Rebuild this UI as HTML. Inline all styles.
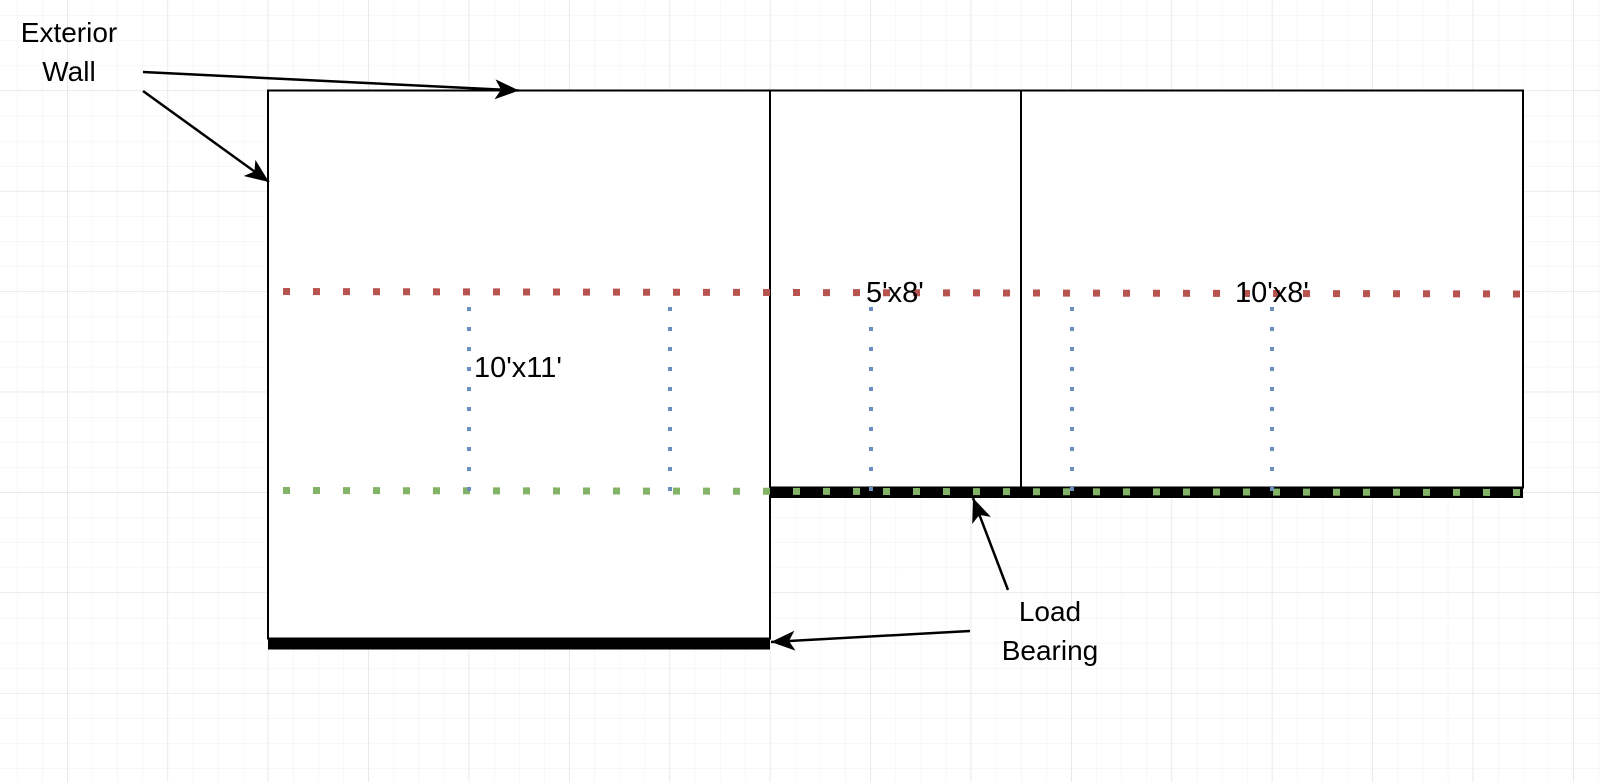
<!DOCTYPE html>
<html><head><meta charset="utf-8"><style>
html,body{margin:0;padding:0;background:#fff;}
svg{display:block;}
text{font-family:"Liberation Sans",Arial,sans-serif;fill:#000;}
</style></head><body>
<svg width="1600" height="782" viewBox="0 0 1600 782" xmlns="http://www.w3.org/2000/svg">
<defs>
<pattern id="minor" x="-8" y="15.4" width="25.1" height="25.1" patternUnits="userSpaceOnUse">
<path d="M0 0H25.1M0 0V25.1" stroke="#f0f0f0" stroke-width="1" fill="none"/>
</pattern>
<pattern id="major" x="67" y="90.5" width="100.4" height="100.4" patternUnits="userSpaceOnUse">
<path d="M0 0H100.4M0 0V100.4" stroke="#dedede" stroke-width="1" fill="none"/>
</pattern>
<marker id="ah" markerWidth="26" markerHeight="22" refX="24" refY="10" orient="auto" markerUnits="userSpaceOnUse">
<path d="M0 0 L24 10 L0 20 L6 10 Z" fill="#000"/>
</marker>
</defs>
<rect width="1600" height="782" fill="url(#minor)"/>
<rect width="1600" height="782" fill="url(#major)"/>

<rect x="268" y="90.5" width="502" height="548" fill="#fff" stroke="#000" stroke-width="2"/>
<rect x="770" y="90.5" width="251" height="397" fill="#fff" stroke="#000" stroke-width="2"/>
<rect x="1021" y="90.5" width="502" height="397" fill="#fff" stroke="#000" stroke-width="2"/>

<line x1="268" y1="644" x2="770" y2="644" stroke="#000" stroke-width="11"/>
<line x1="770" y1="492.5" x2="1523" y2="492.5" stroke="#000" stroke-width="11"/>

<line x1="283" y1="291.5" x2="1527" y2="294" stroke="#b85450" stroke-width="7" stroke-dasharray="7 23"/>
<line x1="283" y1="490.5" x2="1527" y2="492.5" stroke="#82b366" stroke-width="7" stroke-dasharray="7 23"/>

<g stroke="#6c8ebf" stroke-width="4" stroke-dasharray="4 16">
<line x1="469" y1="307" x2="469" y2="494"/>
<line x1="670" y1="307" x2="670" y2="494"/>
<line x1="871" y1="307" x2="871" y2="494"/>
<line x1="1072" y1="307" x2="1072" y2="494"/>
<line x1="1272" y1="307" x2="1272" y2="494"/>
</g>

<text x="474" y="377" font-size="29">10'x11'</text>
<text x="866" y="302" font-size="29">5'x8'</text>
<text x="1235" y="302" font-size="29">10'x8'</text>

<text x="69" y="42" font-size="28" text-anchor="middle">Exterior</text>
<text x="69" y="81" font-size="28" text-anchor="middle">Wall</text>
<text x="1050" y="621" font-size="28" text-anchor="middle">Load</text>
<text x="1050" y="660" font-size="28" text-anchor="middle">Bearing</text>

<g stroke="#000" stroke-width="2.5" fill="none">
<line x1="143" y1="72" x2="519" y2="90.5" marker-end="url(#ah)"/>
<line x1="143" y1="91" x2="269" y2="182" marker-end="url(#ah)"/>
<line x1="1008" y1="590" x2="973" y2="498" marker-end="url(#ah)"/>
<line x1="970" y1="631" x2="771" y2="642" marker-end="url(#ah)"/>
</g>
</svg>
</body></html>
